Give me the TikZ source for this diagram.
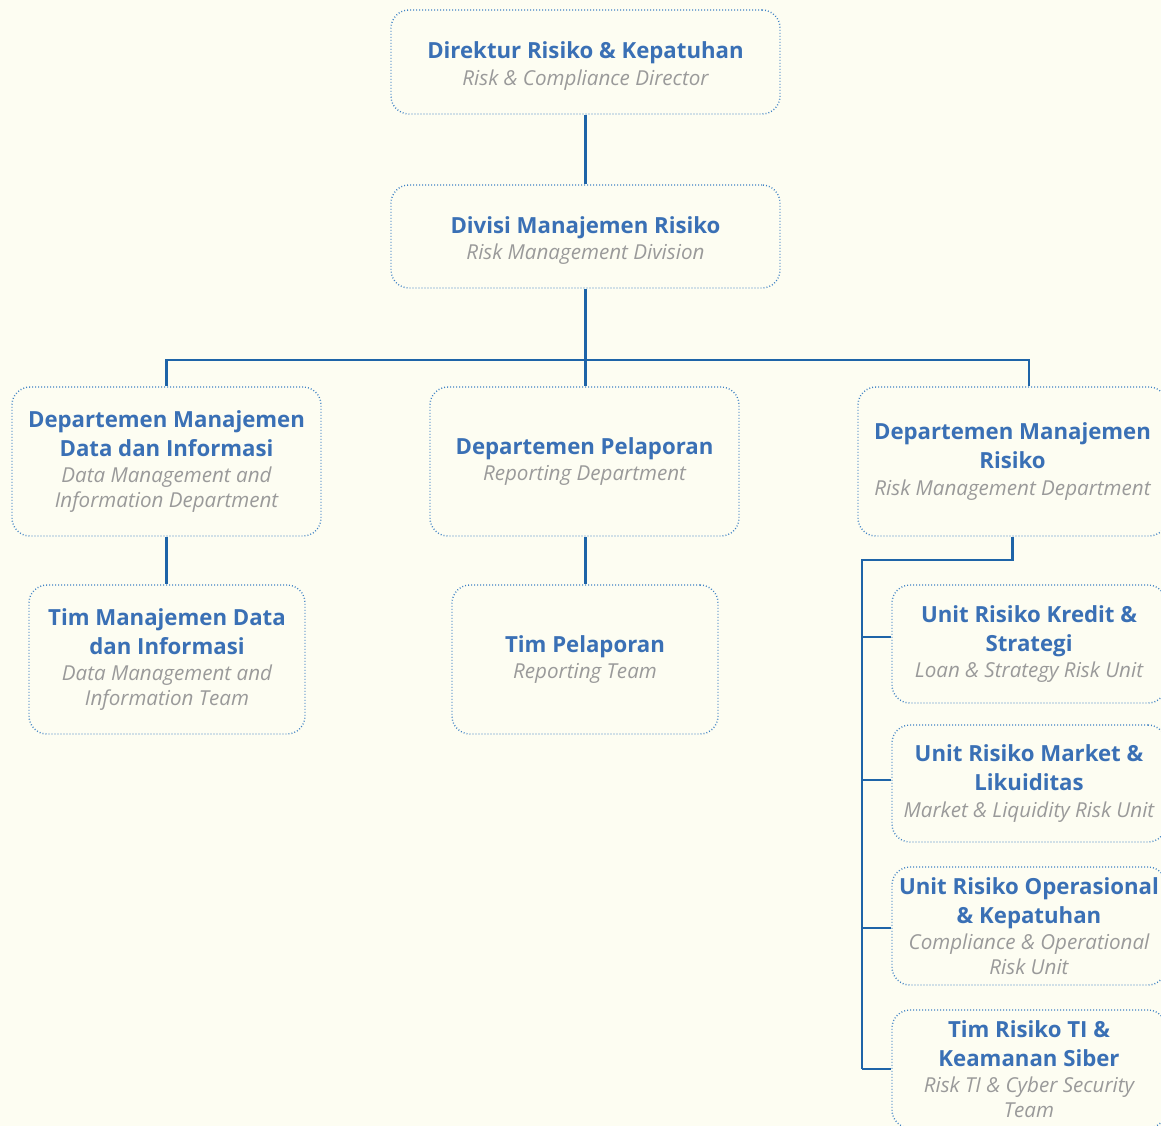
\documentclass[tikz,border=0pt]{standalone}
\usepackage{fontspec}
\setmainfont{Open Sans}
\usetikzlibrary{calc}
\definecolor{bg}{HTML}{FDFDF2}
\definecolor{titc}{HTML}{3A70B5}
\definecolor{subc}{HTML}{9A9A9A}
\definecolor{dotc}{HTML}{3F82C4}
\definecolor{linec}{HTML}{1E64A8}
\newcommand{\ttl}[1]{{\fontsize{22.2}{25}\selectfont\bfseries\color{titc}#1}}
\newcommand{\sbt}[1]{{\fontsize{20.6}{25}\selectfont\itshape\color{subc}#1}}
\newcommand{\bb}{\\[4pt]}
\newcommand{\bi}{\\[1.5pt]}
\newcommand{\ii}{\\}
\newcommand{\lift}{\rule{0pt}{25pt}}
\tikzset{
  orgbox/.style 2 args={draw=dotc, line width=1.4pt, dash pattern=on 0.9pt off 2.1pt,
    rounded corners=18pt, align=center, inner sep=0pt,
    minimum width=#1, minimum height=#2, font=\fontsize{21}{25}\selectfont},
  conn/.style={draw=linec, line width=2.7pt}
}
\begin{document}
\begin{tikzpicture}[x=1pt,y=-1pt]
\fill[bg] (0,0) rectangle (1161,1126);
\clip (0,0) rectangle (1161,1126);
\useasboundingbox (0,0) rectangle (1161,1126);

\node[orgbox={389pt}{104pt}] (dir) at (585.5,62) {\ttl{\lift Direktur Risiko \& Kepatuhan}\bi\sbt{Risk \& Compliance Director}};
\node[orgbox={389pt}{103pt}] (div) at (585.5,236.5) {\ttl{\lift Divisi Manajemen Risiko}\bi\sbt{Risk Management Division}};
\node[orgbox={309pt}{149pt}] (dmd) at (166.5,461.5) {\ttl{Departemen Manajemen}\bb\ttl{Data dan Informasi}\bi\sbt{Data Management and}\ii\sbt{Information Department}};
\node[orgbox={309pt}{149pt}] (dpl) at (584.5,461.5) {\ttl{Departemen Pelaporan}\bi\sbt{Reporting Department}};
\node[orgbox={309pt}{149pt}] (dmr) at (1012.5,461.5) {\ttl{Departemen Manajemen}\bb\ttl{Risiko}\bi\sbt{Risk Management Department}};
\node[orgbox={276pt}{149pt}] (tmd) at (167,659.5) {\ttl{Tim Manajemen Data}\bb\ttl{dan Informasi}\bi\sbt{Data Management and}\ii\sbt{Information Team}};
\node[orgbox={266pt}{149pt}] (tpl) at (585,659.5) {\ttl{Tim Pelaporan}\bi\sbt{Reporting Team}};
\node[orgbox={274pt}{118pt}] (urk) at (1029,644) {\ttl{Unit Risiko Kredit \&}\bb\ttl{Strategi}\bi\sbt{Loan \& Strategy Risk Unit}};
\node[orgbox={274pt}{117pt}] (urm) at (1029,783.5) {\ttl{Unit Risiko Market \&}\bb\ttl{Likuiditas}\bi\sbt{Market \& Liquidity Risk Unit}};
\node[orgbox={274pt}{118pt}] (uro) at (1029,926) {\ttl{Unit Risiko Operasional}\bb\ttl{\& Kepatuhan}\bi\sbt{Compliance \& Operational}\ii\sbt{Risk Unit}};
\node[orgbox={274pt}{118pt}] (tti) at (1029,1069) {\ttl{Tim Risiko TI \&}\bb\ttl{Keamanan Siber}\bi\sbt{Risk TI \& Cyber Security}\ii\sbt{Team}};

\coordinate (bus) at (585.5,360);
\coordinate (sp) at (862,560);
\coordinate (bk) at ([yshift=7pt]urk.west);
\coordinate (bm) at ([yshift=3.5pt]urm.west);
\coordinate (bo) at ([yshift=-2pt]uro.west);
\draw[conn] (dir.south) -- (div.north);
\draw[conn] (div.south) -- (bus);
\draw[conn] (bus) -| (dmd.north);
\draw[conn] (bus) -- (bus |- dpl.north);
\draw[conn] (bus) -| ([xshift=16.5pt]dmr.north);
\draw[conn] (dmd.south) -- (dmd.south |- tmd.north);
\draw[conn] ([xshift=1pt]dpl.south) -- ([xshift=1pt]dpl.south |- tpl.north);
\draw[conn] (dmr.south) |- (sp) -- (sp |- tti.west);
\draw[conn] (sp |- bk) -- (bk);
\draw[conn] (sp |- bm) -- (bm);
\draw[conn] (sp |- bo) -- (bo);
\draw[conn] (sp |- tti.west) -- (tti.west);
\end{tikzpicture}
\end{document}
